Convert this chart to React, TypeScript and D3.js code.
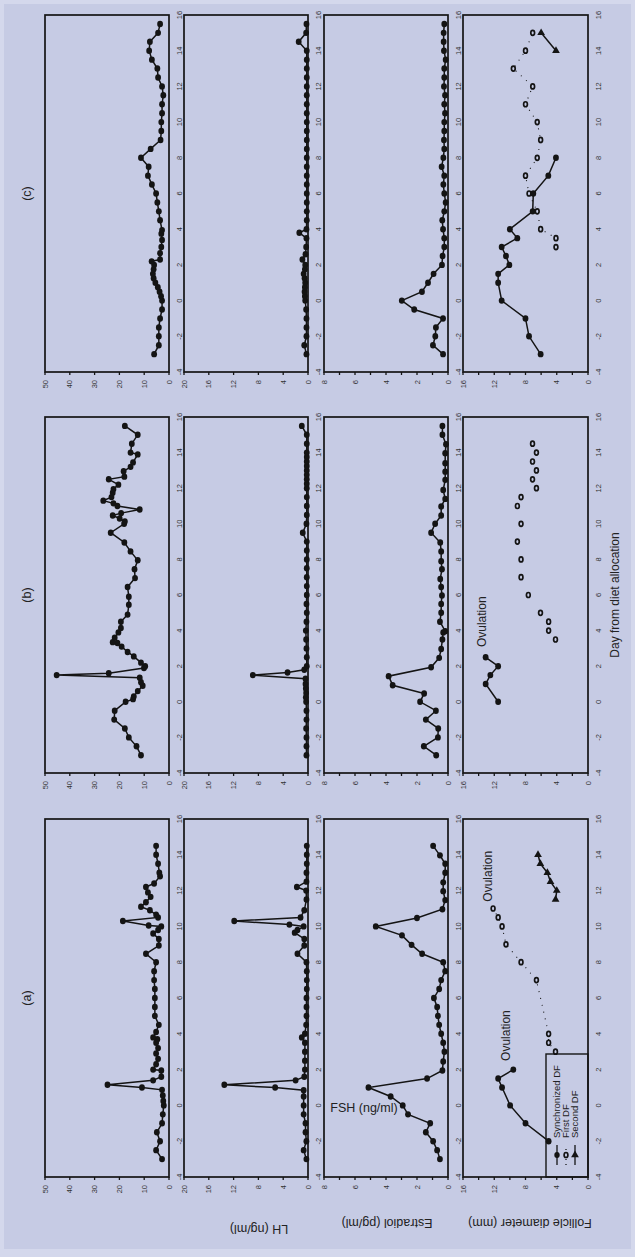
import React from 'react';
import * as d3 from 'd3';

type P = [number, number];

const columnLabels = ['(a)', '(b)', '(c)'];
const dayTicks = d3.range(-4, 17, 2);

const lhTicks = [0, 10, 20, 30, 40, 50];
const lhTickLabels = [0, 10, 20, 30, 40, 50];
const estTicks = [0, 4, 8, 12, 16, 20];
const estTickLabels = [0, 4, 8, 12, 16, 20];
const fshTicks = [0, 1, 2, 3, 4, 5, 6, 7, 8];
const fshTickLabels = [0, 2, 4, 6, 8];
const folTicks = [0, 2, 4, 6, 8, 10, 12, 14, 16];
const folTickLabels = [0, 4, 8, 12, 16];
const rowMax = [50, 20, 8, 16];

const lhA: P[] = [[-3,2.8],[-2.5,5.2],[-2,3.6],[-1.5,4.9],[-1,2.8],[-0.5,2.5],[0,2.1],[0.25,2.3],[0.55,2.5],[0.87,2.8],[1.0,10.9],[1.15,24.8],[1.4,6.4],[1.6,3.1],[1.95,3.1],[2.0,6.4],[2.3,5.2],[2.6,4.4],[2.9,5.2],[3.2,4.4],[3.5,5.2],[3.7,4.7],[3.8,6.4],[4.1,5.2],[4.5,4.1],[5.0,5.7],[5.5,5.7],[6.0,5.7],[6.5,5.7],[7.0,6.0],[7.5,6.0],[8.0,5.2],[8.47,9.3],[8.93,4.1],[9.3,4.1],[9.6,6.4],[9.8,4.4],[10.0,3.1],[10.05,8.2],[10.3,18.6],[10.5,4.4],[10.65,5.2],[10.9,7.7],[11.1,11.3],[11.35,9.3],[11.65,7.4],[11.9,8.5],[12.2,9.3],[12.4,6.0],[12.8,3.6],[13.0,3.9],[13.5,4.4],[14.0,5.2],[14.5,5.2]];
const lhB: P[] = [[-3,11.3],[-2.5,13.1],[-2,16.2],[-1.5,17.8],[-1,22.1],[-0.5,21.9],[0,17.5],[0.15,14.5],[0.3,14.2],[0.6,12.6],[0.9,10.6],[1.1,11.3],[1.35,11.8],[1.5,45.3],[1.6,24.3],[1.9,10.1],[2.0,9.6],[2.2,11.3],[2.55,14.2],[2.8,16.7],[3.1,19.1],[3.3,20.8],[3.35,22.7],[3.6,21.9],[3.9,20.4],[4.15,19.4],[4.5,19.4],[4.9,16.7],[5.45,16.2],[5.9,16.2],[6.45,16.7],[6.95,13.7],[7.45,13.9],[7.95,12.6],[8.45,15.5],[8.95,18.0],[9.5,23.5],[10.0,18.1],[10.13,17.8],[10.3,19.9],[10.47,22.7],[10.6,19.3],[10.8,11.8],[11.0,20.8],[11.15,22.4],[11.3,26.5],[11.5,23.2],[11.75,22.7],[11.95,22.4],[12.2,20.4],[12.5,24.3],[12.65,18.0],[12.95,18.3],[13.2,15.5],[13.45,14.5],[13.9,12.6],[14.0,15.5],[14.5,15.0],[15.0,12.6],[15.5,17.8]];
const lhC: P[] = [[-3,6.0],[-2.5,4.1],[-2,4.1],[-1.5,4.1],[-1,3.6],[-0.5,2.8],[0,2.8],[0.25,3.2],[0.5,3.8],[0.75,4.5],[1,5.5],[1.25,6.2],[1.5,6.5],[1.75,6.2],[2,6.0],[2.2,7.0],[2.3,3.6],[2.65,3.6],[3,3.1],[3.4,2.8],[3.75,3.1],[3.95,2.8],[4.5,3.6],[5,4.1],[5.5,4.7],[6,5.2],[6.5,6.9],[7,8.5],[7.5,8.2],[8,11.3],[8.5,7.4],[9,3.4],[9.5,3.1],[10,3.1],[10.5,2.8],[11,2.8],[11.5,2.3],[12,2.8],[12.5,4.4],[13,4.7],[13.5,6.9],[14,8.0],[14.5,7.7],[15,4.4],[15.5,3.6]];

const estA: P[] = [[-3,0.26],[-2.5,0.7],[-2,0.26],[-1.5,0.4],[-1,0.4],[-0.5,0.7],[0,0.7],[0.5,0.7],[0.85,0.7],[1,5.3],[1.15,13.5],[1.4,2.0],[1.6,0.6],[2,0.5],[2.5,0.5],[3,0.5],[3.5,0.5],[3.8,1.0],[4,0.5],[4.5,0.3],[5,0.25],[5.5,0.25],[6,0.25],[6.5,0.2],[7,0.2],[7.5,0.2],[8,0.25],[8.47,1.7],[8.93,0.6],[9.3,0.6],[9.65,2.15],[9.8,1.7],[10,0.7],[10.1,3.0],[10.3,11.9],[10.5,1.2],[10.9,0.6],[11.5,0.25],[12,0.3],[12.2,1.8],[12.5,0.25],[13,0.25],[13.5,0.2],[14,0.2],[14.5,0.2]];
const estB: P[] = [[-3,0.25],[-2.5,0.25],[-2,0.25],[-1.5,0.3],[-1,0.25],[-0.5,0.25],[0,0.3],[0.25,0.35],[0.5,0.3],[0.75,0.35],[1,0.4],[1.3,0.4],[1.5,8.9],[1.65,3.3],[1.8,0.6],[2,0.2],[2.5,0.2],[3,0.25],[3.5,0.3],[4,0.35],[4.5,0.25],[5,0.2],[5.5,0.25],[6,0.2],[6.5,0.2],[7,0.2],[7.5,0.2],[8,0.2],[8.5,0.2],[9,0.2],[9.5,0.85],[10,0.25],[10.5,0.2],[11,0.2],[11.5,0.2],[12,0.2],[12.25,0.2],[12.5,0.2],[12.75,0.2],[13,0.2],[13.25,0.2],[13.5,0.2],[13.75,0.2],[14,0.2],[14.5,0.2],[15,0.2],[15.5,1.0]];
const estC: P[] = [[-3,0.25],[-2.5,0.6],[-2,0.25],[-1.5,0.25],[-1,0.25],[-0.5,0.3],[0,0.45],[0.25,0.5],[0.5,0.55],[0.75,0.5],[1,0.45],[1.25,0.55],[1.5,0.7],[1.75,0.5],[2,0.45],[2.3,0.9],[2.6,0.4],[3,0.3],[3.5,0.25],[3.8,1.4],[4,0.25],[4.5,0.2],[5,0.2],[5.5,0.2],[6,0.2],[6.5,0.2],[7,0.2],[7.5,0.2],[8,0.2],[8.5,0.2],[9,0.2],[9.5,0.2],[10,0.2],[10.5,0.2],[11,0.2],[11.5,0.2],[12,0.2],[12.5,0.2],[13,0.2],[13.5,0.2],[14,0.2],[14.5,1.5],[15,0.3],[15.5,0.25]];

const fshA: P[] = [[-3,0.52],[-2.5,0.7],[-2,0.96],[-1.5,1.43],[-1,1.15],[-0.5,2.58],[0,2.92],[0.5,3.7],[1.0,5.13],[1.5,1.35],[1.95,0.36],[2.45,0.31],[3.0,0.23],[3.5,0.31],[4.0,0.44],[4.5,0.57],[5.0,0.65],[5.5,0.7],[6.0,0.91],[6.5,0.57],[7.0,0.44],[7.5,0.18],[8.0,0.31],[8.47,1.67],[8.97,2.35],[9.5,2.97],[10.0,4.66],[10.47,2.0],[10.96,0.36],[11.47,0.18],[11.97,0.31],[12.46,0.31],[13.0,0.18],[13.5,0.18],[13.97,0.52],[14.5,0.96]];
const fshB: P[] = [[-3,0.76],[-2.5,1.56],[-2,0.65],[-1.5,0.63],[-1,1.43],[-0.5,0.78],[0,1.8],[0.47,1.54],[0.93,3.57],[1.44,3.83],[1.94,1.09],[2.47,0.57],[2.97,0.44],[3.5,0.36],[3.9,0.31],[3.97,0.18],[4.5,0.52],[5.0,0.44],[5.5,0.44],[5.97,0.39],[6.45,0.44],[6.9,0.5],[7.45,0.39],[7.9,0.44],[8.45,0.44],[8.95,0.5],[9.5,1.09],[10,0.83],[10.47,0.44],[10.97,0.44],[11.4,0.18],[11.9,0.31],[12.47,0.18],[12.93,0.18],[13.4,0.18],[13.96,0.18],[14.47,0.13],[15.0,0.36],[15.5,0.36]];
const fshC: P[] = [[-3,0.32],[-2.5,0.97],[-2,0.82],[-1.5,0.78],[-1,0.32],[-0.5,2.18],[0,2.98],[0.5,1.68],[1.0,1.29],[1.5,0.93],[2.0,0.39],[2.5,0.35],[3.0,0.24],[3.5,0.24],[4.0,0.32],[4.5,0.37],[5,0.24],[5.5,0.15],[6,0.24],[6.5,0.3],[7,0.24],[7.5,0.41],[8,0.3],[8.5,0.24],[9,0.26],[9.5,0.24],[10,0.24],[10.5,0.19],[11,0.24],[11.5,0.19],[12,0.26],[12.5,0.24],[13,0.24],[13.5,0.15],[14,0.26],[14.5,0.28],[15,0.28],[15.5,0.24]];

const syncA: P[] = [[-2,5.04],[-1,8.0],[0,9.97],[1.0,11.0],[1.5,11.5],[2.0,9.56]];
const syncB: P[] = [[0,11.5],[1.0,13.1],[1.5,12.5],[2.0,11.5],[2.5,13.1]];
const syncC: P[] = [[-3,6.06],[-2,7.55],[-1,8.0],[0,11.05],[1,11.5],[1.5,11.5],[2,10.07],[2.5,10.5],[3,11.05],[3.5,9.05],[4,10.0],[5,7.08],[6,7.0],[7,5.08],[8,4.1]];
const firstA: P[] = [[3.0,4.16],[3.5,5.04],[4.0,5.04],[7.0,6.6],[8.0,8.57],[9.0,10.5],[10.0,11.0],[10.5,11.5],[11.0,12.15]];
const firstB: P[] = [[3.5,4.16],[4.0,5.04],[4.5,5.04],[5.0,6.08],[6.0,7.64],[7.0,8.57],[8.0,8.57],[9.0,9.04],[10.0,8.57],[11.0,9.04],[11.5,8.57],[12.0,6.6],[12.5,7.1],[13.0,6.6],[13.5,7.1],[14.0,6.6],[14.5,7.1]];
const firstC: P[] = [[3,4.1],[3.5,4.1],[4,6.06],[5,6.5],[6,7.55],[7,8.0],[8,6.5],[9,6.06],[10,6.5],[11,8.0],[12,7.08],[13,9.56],[14,8.0],[15,7.08]];
const secondA: P[] = [[11.5,4.15],[12.0,4.0],[12.5,4.8],[13.0,5.2],[13.5,6.1],[14.0,6.4]];
const secondB: P[] = [];
const secondC: P[] = [[14,4.1],[15,6.0]];

const ovulationLabels = [
  { col: 0, day: 3.9, value: 10.5 },
  { col: 0, day: 12.8, value: 12.8 },
  { col: 1, day: 4.5, value: 13.6 },
];

const legendItems = ['Synchronized DF', 'First DF', 'Second DF'];

const FONT = '"Liberation Sans", Arial, Helvetica, sans-serif';
const INK = '#141414';
const BG = '#c6cbe4';

export default function App() {
  const cols = [
    { x0: 80, x1: 438, series: [lhA, estA, fshA], sync: syncA, first: firstA, second: secondA, dotted: true },
    { x0: 484, x1: 840, series: [lhB, estB, fshB], sync: syncB, first: firstB, second: secondB, dotted: false },
    { x0: 885, x1: 1242, series: [lhC, estC, fshC], sync: syncC, first: firstC, second: secondC, dotted: true },
  ];
  const rows = [
    { top: 45, bottom: 169, ticks: lhTicks, labels: lhTickLabels },
    { top: 184, bottom: 308, ticks: estTicks, labels: estTickLabels },
    { top: 324, bottom: 448, ticks: fshTicks, labels: fshTickLabels },
    { top: 463, bottom: 588, ticks: folTicks, labels: folTickLabels },
  ];
  const tri = d3.symbol().type(d3.symbolTriangle).size(26)();

  return (
    <svg width={635} height={1257} style={{ position: 'absolute', left: 0, top: 0, display: 'block' }}>
      <rect x={0} y={0} width={635} height={1257} fill="#d4d8ec" />
      <rect x={4} y={4} width={627} height={1245} fill={BG} />
      <g transform="matrix(0,-1,1,0,0,1257)" fontFamily={FONT}>
        {cols.map((c, ci) => {
          const x = d3.scaleLinear().domain([-4, 16]).range([c.x0, c.x1]);
          return (
            <g key={ci}>
              <text x={(c.x0 + c.x1) / 2} y={31} textAnchor="middle" fontSize={12.5} fill="#222">{columnLabels[ci]}</text>
              {rows.map((r, ri) => {
                const y = d3.scaleLinear().domain([0, rowMax[ri]]).range([r.bottom, r.top]);
                const line = d3.line<P>().x(d => x(d[0])).y(d => y(d[1]));
                return (
                  <g key={ri}>
                    {r.ticks.map(t => (
                      <line key={t} x1={c.x0} x2={c.x0 - 3} y1={y(t)} y2={y(t)} stroke={INK} strokeWidth={1.3} />
                    ))}
                    {r.labels.map(t => (
                      <text key={t} x={c.x0 - 8} y={y(t)} dy="0.35em" textAnchor="end" fontSize={7.5} fill="#333">{t}</text>
                    ))}
                    {dayTicks.map(t => (
                      <text key={t} x={x(t)} y={r.bottom + 13} textAnchor="middle" fontSize={7.5} fill="#333">{t}</text>
                    ))}
                    {ri < 3 && (
                      <g>
                        <path d={line(c.series[ri]) || ''} fill="none" stroke={INK} strokeWidth={1.5} />
                        {c.series[ri].map((d, i) => (
                          <ellipse key={i} cx={x(d[0])} cy={y(d[1])} rx={3.2} ry={2.9} fill={INK} />
                        ))}
                      </g>
                    )}
                    {ri === 3 && (
                      <g>
                        {c.dotted && (
                          <path d={line(c.first) || ''} fill="none" stroke={INK} strokeWidth={1.1} strokeDasharray="1 6" />
                        )}
                        <path d={line(c.sync) || ''} fill="none" stroke={INK} strokeWidth={1.5} />
                        {c.second.length > 0 && <path d={line(c.second) || ''} fill="none" stroke={INK} strokeWidth={1.5} />}
                        {c.sync.map((d, i) => (
                          <ellipse key={'s' + i} cx={x(d[0])} cy={y(d[1])} rx={3.2} ry={2.9} fill={INK} />
                        ))}
                        {c.first.map((d, i) => (
                          <ellipse key={'f' + i} cx={x(d[0])} cy={y(d[1])} rx={2.5} ry={1.9} fill={BG} stroke={INK} strokeWidth={1.7} />
                        ))}
                        {c.second.map((d, i) => (
                          <path key={'t' + i} d={tri || ''} transform={`translate(${x(d[0])},${y(d[1])}) rotate(90)`} fill={INK} />
                        ))}
                      </g>
                    )}
                    <rect x={c.x0} y={r.top} width={c.x1 - c.x0} height={r.bottom - r.top} fill="none" stroke={INK} strokeWidth={1.7} />
                  </g>
                );
              })}
            </g>
          );
        })}
        {ovulationLabels.map((o, i) => {
          const c = cols[o.col];
          const x = d3.scaleLinear().domain([-4, 16]).range([c.x0, c.x1]);
          const y = d3.scaleLinear().domain([0, 16]).range([588, 463]);
          return (
            <text key={i} x={x(o.day)} y={y(o.value)} dy="0.35em" textAnchor="middle" fontSize={12} fill="#222">Ovulation</text>
          );
        })}
        <text x={(cols[1].x0 + cols[1].x1) / 2} y={619} textAnchor="middle" fontSize={12} fill="#222">Day from diet allocation</text>
        {/* legend */}
        <g>
          <rect x={cols[0].x0} y={546} width={123} height={42} fill="none" stroke={INK} strokeWidth={1.4} />
          {legendItems.map((label, i) => {
            const ly = 557 + i * 9;
            return (
              <g key={label}>
                <line x1={92} x2={112} y1={ly} y2={ly} stroke={INK} strokeWidth={1.3} strokeDasharray={i === 1 ? '1 4' : undefined} />
                {i === 0 && <ellipse cx={102} cy={ly} rx={3} ry={2.7} fill={INK} />}
                {i === 1 && <ellipse cx={102} cy={ly} rx={2.5} ry={1.9} fill={BG} stroke={INK} strokeWidth={1.7} />}
                {i === 2 && <path d={tri || ''} transform={`translate(102,${ly}) rotate(90)`} fill={INK} />}
                <text x={119} y={ly} dy="0.35em" fontSize={9.5} fill="#222">{label}</text>
              </g>
            );
          })}
        </g>
      </g>
      <g fontFamily={FONT} fill="#222" fontSize={12.5}>
        <text transform="translate(259,1229) rotate(180)" textAnchor="middle" dy="0.35em">LH (ng/ml)</text>
        <text transform="translate(387,1223) rotate(180)" textAnchor="middle" dy="0.35em">Estradiol (pg/ml)</text>
        <text transform="translate(530,1223) rotate(180)" textAnchor="middle" dy="0.35em">Follicle diameter (mm)</text>
        <text x={364} y={1108} textAnchor="middle" dy="0.35em">FSH (ng/ml)</text>
      </g>
    </svg>
  );
}
